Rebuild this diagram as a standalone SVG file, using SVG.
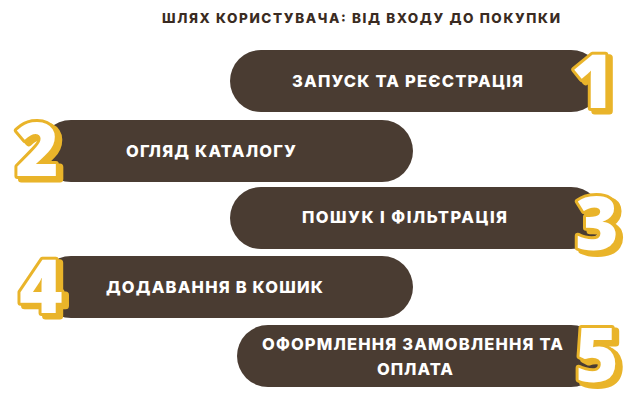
<svg xmlns="http://www.w3.org/2000/svg" width="636" height="400" viewBox="0 0 636 400">
<style>
.bar{fill:#4a3c32}
.title{font-family:Inter,"Open Sans","Liberation Sans",sans-serif;font-weight:800;font-size:13.5px;fill:#3a2b22;text-anchor:middle}
.lbl{font-family:Inter,"Open Sans","Liberation Sans",sans-serif;font-weight:800;font-size:16.5px;fill:#ffffff;text-anchor:middle}
.num{font-family:"Open Sans","DejaVu Sans",sans-serif;font-weight:800;font-size:74px;text-anchor:middle;stroke-linejoin:round;paint-order:stroke}
.shadow{fill:#e9b42a;stroke:#e9b42a;stroke-width:7}
.face{fill:#ffffff;stroke:#e9b42a;stroke-width:6}
</style>
<rect width="636" height="400" fill="#ffffff"/>
<text class="title" x="361" y="22.5" textLength="398" lengthAdjust="spacing">ШЛЯХ КОРИСТУВАЧА: ВІД ВХОДУ ДО ПОКУПКИ</text>
<g id="connectors"/>
<g id="step1">
<rect class="bar" x="230" y="50" width="372" height="62" rx="31"/>
<text class="lbl" x="407.5" y="87" textLength="231" lengthAdjust="spacing">ЗАПУСК ТА РЕЄСТРАЦІЯ</text>
<text class="num shadow" x="597" y="111">1</text>
<text class="num face" x="593" y="108">1</text>
</g>
<g id="step2">
<rect class="bar" x="40" y="120" width="373" height="62" rx="31"/>
<text class="lbl" x="211" y="157" textLength="170" lengthAdjust="spacing">ОГЛЯД КАТАЛОГУ</text>
<text class="num shadow" x="41" y="179">2</text>
<text class="num face" x="37" y="176">2</text>
</g>
<g id="step3">
<rect class="bar" x="230" y="187" width="372" height="62" rx="31"/>
<text class="lbl" x="404.5" y="223" textLength="205" lengthAdjust="spacing">ПОШУК І ФІЛЬТРАЦІЯ</text>
<text class="num shadow" x="601" y="253">3</text>
<text class="num face" x="597" y="250">3</text>
</g>
<g id="step4">
<rect class="bar" x="40" y="256" width="373" height="62" rx="31"/>
<text class="lbl" x="214.5" y="293" textLength="217" lengthAdjust="spacing">ДОДАВАННЯ В КОШИК</text>
<text class="num shadow" x="45" y="316">4</text>
<text class="num face" x="41" y="313">4</text>
</g>
<g id="step5">
<rect class="bar" x="237" y="325" width="365" height="62" rx="31"/>
<text class="lbl" x="412.5" y="350" textLength="301" lengthAdjust="spacing">ОФОРМЛЕННЯ ЗАМОВЛЕННЯ ТА</text>
<text class="lbl" x="415" y="375" textLength="76" lengthAdjust="spacing">ОПЛАТА</text>
<text class="num shadow" x="601" y="385">5</text>
<text class="num face" x="597" y="382">5</text>
</g>
</svg>
